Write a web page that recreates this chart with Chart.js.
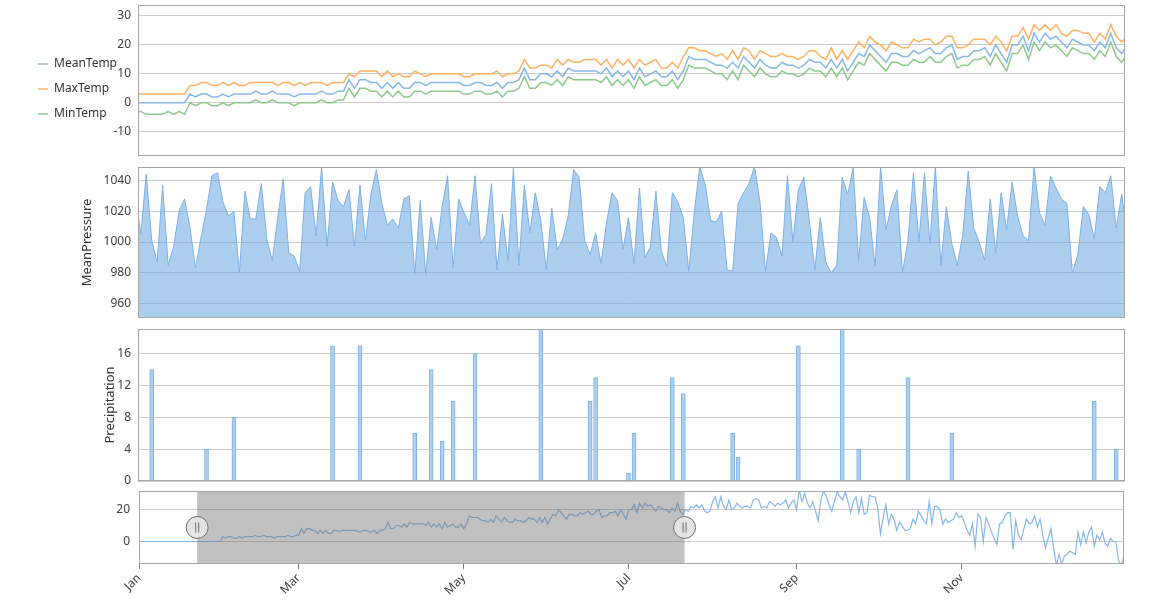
<!DOCTYPE html>
<html>
<head>
<meta charset="utf-8">
<script src="https://cdn.jsdelivr.net/npm/chart.js@4.4.1/dist/chart.umd.min.js"></script>
<style>
    body { margin: 0; background: #fff; }
    canvas { position: absolute; }
</style>
</head>
<body>
<canvas id="tempChart" width="1126" height="178" style="left:0;top:0"></canvas>
<canvas id="pressureChart" width="1051" height="162" style="left:75px;top:162px"></canvas>
<canvas id="rainChart" width="1028" height="162" style="left:98px;top:324px"></canvas>
<canvas id="navChart" width="1025" height="114" style="left:100px;top:486px"></canvas>
<script>
// zoomed window shown in the three upper panels (day of year)
const firstDay = 21;
const viewStart = 21.5;
const viewEnd = 201.6;

// daily mean temperature for the whole year (navigator + top panel)
const meanTemp = [
    0, 0, 0, 0, 0, 0, 0, 0, 0, 0, 0, 0, 0, 0, 0, 0, 0, 0, 0, 0, 0,
    0, 0, 0, 0, 0, 0, 0, 0, 0, 0,
    3, 2, 3, 3, 2, 2, 3, 2, 3, 3,
    3, 3, 4, 3, 3, 4, 3, 3, 3, 2,
    3, 3, 3, 3, 4, 3, 3, 4, 4, 8,
    5, 8, 8, 7, 7, 5, 7, 5, 7, 5,
    5, 7, 7, 6, 7, 7, 7, 7, 7, 7,
    6, 6, 7, 7, 6, 6, 7, 5, 7, 7,
    8, 12, 8, 8, 10, 10, 9, 11, 9, 12,
    11, 11, 11, 11, 11, 10, 12, 9, 11, 9,
    11, 8, 12, 9, 10, 11, 9, 9, 11, 8,
    11, 16, 15, 15, 15, 14, 13, 13, 12, 14,
    12, 16, 14, 12, 15, 13, 12, 12, 14, 13,
    13, 12, 13, 15, 14, 14, 12, 15, 12, 15,
    11, 14, 17, 16, 20, 18, 16, 14, 17, 17,
    16, 16, 18, 17, 18, 19, 17, 17, 19, 20,
    15, 16, 16, 18, 18, 19, 16, 20, 17, 14,
    20, 20, 23, 18, 24, 21, 24, 22, 23, 21,
    19, 22, 21, 20, 20, 18, 21, 19, 24, 19,
    17, 20,
    19, 22, 21, 23, 21, 23, 19, 18, 19, 25,
    28, 21, 28, 22, 20, 26, 20, 21, 24, 22,
    21, 22, 22, 21, 26, 27, 26, 21, 22, 21,
    25, 24, 22, 24, 23, 24, 26, 21, 24, 26,
    20, 32, 25, 30, 24, 21, 25, 19, 13, 26,
    32, 28, 23, 19, 25, 31, 28, 26, 31, 25,
    18, 25, 28, 18, 27, 17, 18, 29, 28, 28,
    21, 5, 15, 23, 11, 17, 14, 7, 12, 10,
    7, 7, 8, 14, 11, 19, 16, 13, 11, 25,
    11, 22, 22, 20, 11, 14, 12, 13, 14, 18,
    15, 16, 12, 7, 4, 11, -3, 17, 15, 0,
    15, 11, 6, 2, -2, 11, 12, 16, 18, 18,
    -5, 13, 4, 1, 8, 14, 11, 12, 16, 9,
    14, 4, -4, 2, 8, -4, -15, -8, -14, -9,
    -8, -6, -7, -8, 6, -2, 6, -1, 6, 9,
    -3, 4, 1, 6, -1, -3, 2, 0, 0, -12,
    -15, -9
];

// window series, index 0 = firstDay
const maxTemp = [
    3, 3, 3, 3, 3, 3, 3, 3, 3, 3,
    6, 6, 7, 7, 6, 6, 7, 6, 7, 6,
    6, 7, 7, 7, 7, 7, 6, 7, 7, 6,
    7, 6, 7, 7, 7, 6, 7, 7, 7, 10,
    9, 11, 11, 11, 11, 9, 11, 9, 10, 9,
    9, 11, 10, 9, 10, 10, 10, 10, 10, 10,
    9, 9, 10, 10, 10, 10, 11, 9, 10, 10,
    11, 15, 12, 12, 13, 13, 12, 15, 13, 15,
    14, 14, 15, 15, 15, 13, 15, 12, 15, 13,
    15, 12, 15, 13, 14, 15, 12, 12, 14, 12,
    16, 19, 19, 18, 18, 17, 16, 17, 15, 18,
    15, 19, 18, 15, 18, 17, 16, 16, 17, 16,
    16, 15, 16, 18, 18, 16, 15, 19, 15, 18,
    15, 18, 21, 19, 23, 21, 20, 18, 21, 20,
    19, 19, 22, 21, 22, 22, 20, 21, 23, 23,
    19, 19, 20, 22, 22, 22, 20, 23, 21, 18,
    23, 23, 26, 22, 27, 25, 27, 25, 27, 24,
    23, 25, 25, 24, 24, 21, 24, 22, 27, 23,
    21, 23
];
const minTemp = [
    -3, -3, -4, -4, -4, -4, -3, -4, -3, -4,
    0, -1, 0, 0, -1, -1, 0, -1, 0, 0,
    0, 0, 1, 0, 0, 1, 0, 0, 0, -1,
    0, 0, 0, 0, 1, 0, 0, 1, 1, 5,
    2, 5, 5, 4, 4, 2, 4, 2, 4, 2,
    2, 4, 4, 3, 4, 4, 4, 4, 4, 4,
    3, 3, 4, 4, 3, 3, 4, 2, 4, 4,
    5, 9, 5, 5, 7, 7, 6, 8, 6, 9,
    8, 8, 8, 8, 8, 7, 9, 6, 8, 6,
    8, 5, 9, 6, 7, 8, 6, 6, 8, 5,
    8, 13, 12, 12, 12, 11, 10, 10, 8, 11,
    8, 13, 11, 9, 12, 10, 9, 9, 11, 10,
    10, 9, 10, 12, 11, 11, 9, 12, 9, 12,
    8, 11, 14, 13, 17, 15, 13, 11, 14, 14,
    13, 13, 15, 14, 14, 16, 14, 14, 16, 17,
    12, 13, 13, 15, 15, 16, 13, 17, 14, 11,
    17, 17, 20, 15, 21, 18, 21, 19, 20, 18,
    16, 19, 18, 17, 17, 15, 18, 16, 21, 16,
    14, 17
];
const pressure = [
    1032, 1005, 1044, 1001, 987, 1037, 985, 997, 1020, 1028,
    1009, 983, 1003, 1021, 1043, 1045, 1026, 1017, 1020, 980,
    1033, 1015, 1015, 1038, 1002, 988, 1016, 1041, 993, 991,
    981, 1032, 1036, 1004, 1049, 997, 1039, 1027, 1023, 1034,
    997, 1037, 1001, 1031, 1047, 1025, 1011, 1015, 1009, 1028,
    1030, 979, 1027, 979, 1016, 995, 1023, 1043, 983, 1028,
    1019, 1011, 1043, 999, 1005, 1038, 982, 1018, 988, 1048,
    985, 1037, 1006, 1032, 1014, 982, 1022, 995, 1002, 1017,
    1047, 1042, 1001, 992, 1006, 986, 1013, 1032, 1027, 995,
    1016, 986, 1035, 990, 997, 1033, 994, 984, 1032, 1026,
    1016, 981, 1019, 1049, 1037, 1014, 1013, 1020, 982, 981,
    1025, 1032, 1038, 1049, 1026, 981, 1006, 1003, 991, 1043,
    1000, 1034, 1042, 1014, 982, 1016, 987, 980, 985, 1042,
    1031, 1048, 988, 1029, 1016, 984, 1049, 1008, 1024, 1034,
    980, 1001, 1045, 1000, 1045, 999, 1049, 985, 1023, 999,
    985, 1005, 1046, 1009, 1000, 988, 1028, 993, 1032, 1008,
    1039, 1017, 1004, 1001, 1049, 1019, 1011, 1043, 1035, 1028,
    1025, 980, 992, 1023, 1018, 1002, 1036, 1032, 1043, 1009,
    1031, 1005
];
const rainDays = [24, 34, 39, 57, 62, 72, 75, 77, 79, 83, 95, 104, 105, 111, 112,
    119, 121, 130, 131, 142, 150, 153, 162, 170, 196, 200];
const rainAmounts = [14, 4, 8, 17, 17, 6, 14, 5, 10, 16, 20, 10, 13, 1, 6,
    13, 11, 6, 3, 17, 20, 4, 13, 6, 10, 4];

const tempTicks = [-10, 0, 10, 20, 30];
const pressureTicks = [960, 980, 1000, 1020, 1040];
const rainTicks = [0, 4, 8, 12, 16];
const navTicks = [0, 20];
const monthDays = [0, 59, 120, 181, 243, 304];
const monthNames = ['Jan', 'Mar', 'May', 'Jul', 'Sep', 'Nov'];

Chart.defaults.font.family = "'Noto Sans', 'Open Sans', sans-serif";
Chart.defaults.font.size = 12;
Chart.defaults.color = '#404040';
Chart.defaults.animation = false;
Chart.defaults.responsive = false;
Chart.defaults.plugins.tooltip.enabled = false;

const gridColor = '#cccccc';

function toPoints(values, start) {
    return values.map((v, i) => ({ x: start + i, y: v }));
}
function setTicks(values) {
    return scale => { scale.ticks = values.map(v => ({ value: v })); };
}
// fixed axis width, no extra room for half labels above/below the plot
function fixWidth(w) {
    return scale => {
        scale.width = typeof w === 'function' ? w(scale) : w;
        scale.paddingTop = 0;
        scale.paddingBottom = 0;
    };
}
function fixHeight(h) {
    return scale => {
        scale.height = h;
        scale.paddingLeft = 0;
        scale.paddingRight = 0;
    };
}
const plainLabel = v => String(v);

// grey frame round each plot area
const plotBorder = {
    id: 'plotBorder',
    afterDraw(chart) {
        const a = chart.chartArea;
        const ctx = chart.ctx;
        ctx.save();
        ctx.strokeStyle = '#a6a6a6';
        ctx.lineWidth = 1;
        ctx.strokeRect(Math.round(a.left) + 0.5, Math.round(a.top) + 0.5,
            Math.round(a.right - a.left) - 1, Math.round(a.bottom - a.top) - 1);
        ctx.restore();
    }
};

// shaded range + handles on the navigator
const windowOverlay = {
    id: 'windowOverlay',
    afterDatasetsDraw(chart) {
        const { ctx, chartArea: a } = chart;
        const x = chart.scales.x;
        const x0 = x.getPixelForValue(viewStart);
        const x1 = x.getPixelForValue(viewEnd);
        const cy = (a.top + a.bottom) / 2;
        ctx.save();
        ctx.fillStyle = 'rgba(105, 105, 105, 0.42)';
        ctx.fillRect(x0, a.top, x1 - x0, a.bottom - a.top);
        [x0, x1].forEach(cx => {
            ctx.beginPath();
            ctx.arc(cx, cy, 11, 0, Math.PI * 2);
            ctx.fillStyle = '#e4e4e4';
            ctx.fill();
            ctx.strokeStyle = '#6e6e6e';
            ctx.lineWidth = 1;
            ctx.stroke();
            ctx.beginPath();
            ctx.moveTo(cx - 1.5, cy - 5);
            ctx.lineTo(cx - 1.5, cy + 5);
            ctx.moveTo(cx + 1.5, cy - 5);
            ctx.lineTo(cx + 1.5, cy + 5);
            ctx.stroke();
        });
        ctx.restore();
    }
};

// Temperature lines
new Chart(document.getElementById('tempChart'), {
    type: 'line',
    data: {
        datasets: [{
            label: 'MeanTemp',
            data: toPoints(meanTemp.slice(firstDay, firstDay + maxTemp.length), firstDay),
            borderColor: '#86b8e6',
            borderWidth: 1.5,
            pointRadius: 0,
            tension: 0
        }, {
            label: 'MaxTemp',
            data: toPoints(maxTemp, firstDay),
            borderColor: '#ffb061',
            borderWidth: 1.5,
            pointRadius: 0,
            tension: 0
        }, {
            label: 'MinTemp',
            data: toPoints(minTemp, firstDay),
            borderColor: '#8cc98c',
            borderWidth: 1.5,
            pointRadius: 0,
            tension: 0
        }]
    },
    options: {
        layout: { padding: { left: 25, top: 5, right: 1, bottom: 5 } },
        plugins: {
            legend: {
                position: 'left',
                labels: {
                    usePointStyle: true,
                    pointStyle: 'line',
                    pointStyleWidth: 10,
                    padding: 13,
                    color: '#333',
                    font: { size: 12 }
                }
            }
        },
        scales: {
            x: {
                type: 'linear', min: viewStart, max: viewEnd,
                grid: { display: false }, border: { display: false },
                ticks: { display: false },
                afterFit: fixHeight(17)
            },
            y: {
                min: -18.4, max: 33.8,
                afterBuildTicks: setTicks(tempTicks),
                grid: { color: gridColor, drawTicks: false },
                border: { display: false },
                // labels sit over the legend's right margin, so draw them unclipped
                ticks: { mirror: true, crossAlign: 'far', padding: -24.6, callback: plainLabel },
                afterFit: fixWidth(scale => 138 - 25 - (scale.chart.legend.width || 0))
            }
        }
    },
    plugins: [plotBorder]
});

// Pressure area
new Chart(document.getElementById('pressureChart'), {
    type: 'line',
    data: {
        datasets: [{
            label: 'MeanPressure',
            data: toPoints(pressure, firstDay),
            borderColor: '#7db1e2',
            backgroundColor: 'rgba(104, 166, 226, 0.55)',
            fill: 'start',
            borderWidth: 1,
            pointRadius: 0,
            tension: 0
        }]
    },
    options: {
        layout: { padding: { top: 5, right: 1, bottom: 6 } },
        plugins: { legend: { display: false } },
        scales: {
            x: { type: 'linear', display: false, min: viewStart, max: viewEnd },
            y: {
                min: 950.7, max: 1048.7,
                afterBuildTicks: setTicks(pressureTicks),
                title: { display: true, text: 'MeanPressure', color: '#333', font: { size: 13 } },
                grid: { color: gridColor, drawTicks: false },
                border: { display: false },
                ticks: { padding: 7, callback: plainLabel },
                afterFit: fixWidth(63)
            }
        }
    },
    plugins: [plotBorder]
});

// Precipitation bars
new Chart(document.getElementById('rainChart'), {
    type: 'bar',
    data: {
        datasets: [{
            label: 'Precipitation',
            data: rainDays.map((d, i) => ({ x: d, y: rainAmounts[i] })),
            backgroundColor: '#abd0f0',
            borderColor: '#7db1e2',
            borderWidth: 1,
            barThickness: 4
        }]
    },
    options: {
        layout: { padding: { top: 5, right: 1, bottom: 5 } },
        plugins: { legend: { display: false } },
        scales: {
            x: { type: 'linear', display: false, offset: false, min: viewStart, max: viewEnd },
            y: {
                min: 0, max: 19.1,
                afterBuildTicks: setTicks(rainTicks),
                title: { display: true, text: 'Precipitation', color: '#333', font: { size: 13 } },
                grid: { color: gridColor, drawTicks: false },
                border: { display: false },
                ticks: { padding: 7, callback: plainLabel },
                afterFit: fixWidth(40)
            }
        }
    },
    plugins: [plotBorder]
});

// Navigator (whole year)
new Chart(document.getElementById('navChart'), {
    type: 'line',
    data: {
        datasets: [{
            label: 'MeanTemp',
            data: toPoints(meanTemp, 0),
            borderColor: '#86b8e6',
            borderWidth: 1.2,
            pointRadius: 0,
            tension: 0
        }]
    },
    options: {
        layout: { padding: { top: 5, right: 1 } },
        plugins: { legend: { display: false } },
        scales: {
            x: {
                type: 'linear', min: 0, max: 364,
                afterBuildTicks: setTicks(monthDays),
                ticks: {
                    autoSkip: false, minRotation: 45, maxRotation: 45, padding: 2,
                    callback: v => monthNames[monthDays.indexOf(v)]
                },
                grid: { drawOnChartArea: false, tickLength: 5, color: '#777' },
                border: { display: false },
                afterFit: fixHeight(36)
            },
            y: {
                min: -14.1, max: 31.6,
                afterBuildTicks: setTicks(navTicks),
                grid: { color: gridColor, drawTicks: false },
                border: { display: false },
                ticks: { padding: 9, callback: plainLabel },
                afterFit: fixWidth(39)
            }
        }
    },
    plugins: [windowOverlay, plotBorder]
});
</script>
</body>
</html>
